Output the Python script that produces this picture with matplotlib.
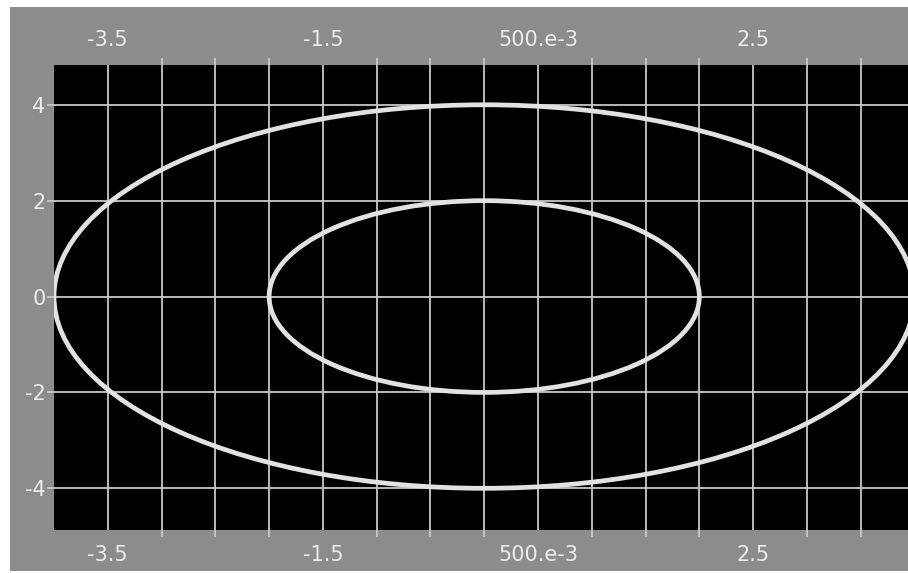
#!/usr/bin/env python3

import numpy as np
import matplotlib.pyplot as plt
from matplotlib.patches import Ellipse, Rectangle

# two rings, both centred on the origin
ring_centers = [(0.0, 0.0), (0.0, 0.0)]
ring_radii = [4.0, 2.0]

x_major = [-3.5, -1.5, 0.5, 2.5]
x_major_labels = ["-3.5", "-1.5", "500.e-3", "2.5"]
x_minor = [-3.0, -2.5, -2.0, -1.0, -0.5, 0.0, 1.0, 1.5, 2.0, 3.0, 3.5]
y_ticks = [-4, -2, 0, 2, 4]
y_labels = ["-4", "-2", "0", "2", "4"]

W, H = 908, 573
frame_gray = "#8c8c8c"
text_col = "#ececec"
grid_col = "#c8c8c8"
ring_col = "#e2e2e2"


def main():
    fig = plt.figure(figsize=(W / 100, H / 100), dpi=100)
    fig.patch.set_facecolor("white")
    # grey panel behind the graph
    fig.patches.append(Rectangle((10 / W, 2 / H), 1 - 10 / W, (H - 9) / H,
                                 transform=fig.transFigure, facecolor=frame_gray,
                                 edgecolor="none", zorder=-10))

    ax = fig.add_axes([54 / W, (H - 530) / H, (W - 54) / W, (530 - 65) / H])
    ax.set_facecolor("black")
    ax.set_xlim(-4.0, 3.94)
    ax.set_ylim(-4.87, 4.83)

    for (cx, cy), r in zip(ring_centers, ring_radii):
        ax.add_patch(Ellipse((cx, cy), 2 * r, 2 * r, fill=False,
                             edgecolor=ring_col, linewidth=3.4, zorder=3))

    ax.set_xticks(x_major)
    ax.set_xticklabels(x_major_labels)
    ax.set_xticks(x_minor, minor=True)
    ax.set_yticks(y_ticks)
    ax.set_yticklabels(y_labels)

    ax.tick_params(axis="x", which="major", length=0, pad=11, top=True,
                   labeltop=True, bottom=True, labelbottom=True,
                   labelsize=15, labelcolor=text_col)
    ax.tick_params(axis="x", which="minor", length=5, width=1.3, direction="out",
                   color=grid_col, top=True, bottom=True)
    ax.tick_params(axis="y", which="major", length=5, width=1.3, direction="out",
                   color=grid_col, labelsize=15, labelcolor=text_col, pad=1)

    ax.grid(True, which="both", axis="x", color=grid_col, linewidth=1.3)
    ax.grid(True, which="major", axis="y", color=grid_col, linewidth=1.3)
    ax.set_axisbelow(True)
    for s in ax.spines.values():
        s.set_visible(False)

    fig.savefig("out.png", dpi=100, facecolor=fig.get_facecolor())


if __name__ == "__main__":
    main()
